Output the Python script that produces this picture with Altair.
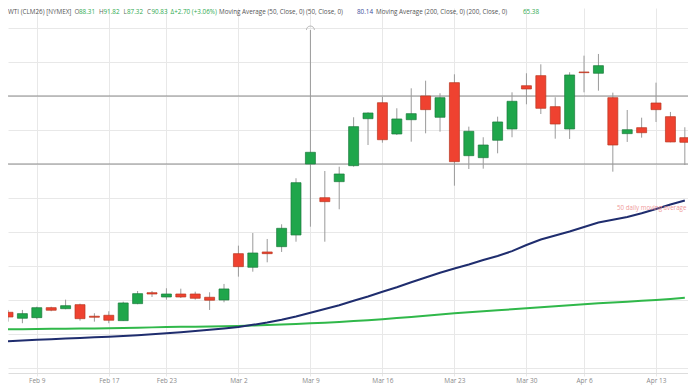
import altair as alt
import pandas as pd

# ---------------- data ----------------
dates = ["Feb 5", "Feb 6", "Feb 9", "Feb 10", "Feb 11", "Feb 12", "Feb 13", "Feb 17",
         "Feb 18", "Feb 19", "Feb 20", "Feb 23", "Feb 24", "Feb 25", "Feb 26", "Feb 27",
         "Mar 2", "Mar 3", "Mar 4", "Mar 5", "Mar 6", "Mar 9", "Mar 10", "Mar 11",
         "Mar 12", "Mar 13", "Mar 16", "Mar 17", "Mar 18", "Mar 19", "Mar 20", "Mar 23",
         "Mar 24", "Mar 25", "Mar 26", "Mar 27", "Mar 30", "Mar 31", "Apr 1", "Apr 2",
         "Apr 6", "Apr 7", "Apr 8", "Apr 9", "Apr 10", "Apr 13", "Apr 14", "Apr 15"]

opens = [63.19, 62.31, 62.40, 63.87, 63.72, 64.31, 62.61, 62.75,
         61.96, 64.46, 66.07, 65.44, 65.88, 65.88, 65.40, 65.00,
         71.81, 69.81, 72.06, 72.84, 74.56, 85.00, 80.04, 82.40,
         84.75, 91.66, 94.01, 89.41, 91.51, 95.00, 91.87, 96.96,
         86.22, 85.93, 88.49, 90.15, 96.51, 97.99, 93.43, 90.15,
         98.53, 98.34, 94.75, 89.46, 90.34, 93.97, 91.96, 88.87]
highs = [63.53, 63.53, 64.01, 64.01, 65.05, 64.46, 63.05, 63.34,
         64.75, 66.32, 66.32, 66.72, 66.66, 66.22, 66.13, 67.36,
         72.99, 74.85, 73.97, 76.13, 82.90, 104.70, 83.97, 84.60,
         91.87, 92.60, 94.90, 93.19, 96.13, 97.25, 95.40, 98.19,
         90.49, 88.93, 91.96, 95.54, 98.34, 99.66, 94.81, 98.49,
         100.93, 101.18, 95.49, 92.94, 91.81, 96.96, 92.65, 90.40]
lows = [61.81, 61.58, 62.16, 63.34, 63.63, 61.96, 61.81, 61.58,
        61.91, 64.37, 65.44, 65.05, 65.29, 65.05, 63.53, 64.66,
        68.43, 69.16, 70.54, 72.06, 73.57, 75.78, 73.57, 78.34,
        84.60, 87.79, 88.13, 89.26, 88.28, 89.51, 89.75, 81.81,
        84.26, 84.31, 86.57, 88.93, 93.78, 92.35, 88.72, 88.68,
        95.54, 95.78, 83.87, 88.24, 88.87, 91.18, 88.19, 84.85]
closes = [62.50, 62.99, 63.87, 63.49, 64.16, 62.25, 62.46, 62.02,
          64.56, 65.93, 65.88, 65.88, 65.44, 65.25, 64.96, 66.62,
          69.90, 71.91, 71.81, 75.54, 82.25, 86.72, 79.46, 83.53,
          90.49, 92.50, 88.57, 91.62, 92.40, 92.99, 94.75, 85.34,
          89.81, 87.79, 91.18, 94.22, 96.03, 93.19, 90.88, 98.09,
          98.43, 99.46, 87.79, 90.04, 89.60, 92.99, 88.24, 88.19]

ma50 = [58.93, 59.05, 59.15, 59.24, 59.32, 59.41, 59.50, 59.59,
        59.71, 59.82, 59.96, 60.10, 60.26, 60.44, 60.63, 60.82,
        61.03, 61.34, 61.68, 62.09, 62.56, 63.13, 63.67, 64.23,
        64.88, 65.51, 66.22, 66.87, 67.60, 68.31, 69.00, 69.63,
        70.22, 70.88, 71.47, 72.18, 73.09, 73.90, 74.49, 75.07,
        75.74, 76.40, 76.80, 77.21, 77.75, 78.38, 79.05, 79.63]
ma200 = [60.69, 60.71, 60.74, 60.75, 60.77, 60.80, 60.81, 60.84,
         60.88, 60.93, 60.97, 61.02, 61.05, 61.08, 61.11, 61.15,
         61.18, 61.24, 61.31, 61.39, 61.47, 61.56, 61.66, 61.77,
         61.89, 62.03, 62.18, 62.34, 62.51, 62.68, 62.86, 63.04,
         63.19, 63.34, 63.49, 63.63, 63.78, 63.93, 64.08, 64.22,
         64.37, 64.50, 64.63, 64.75, 64.88, 65.00, 65.15, 65.33]

levels = [95, 85]
price_grid = [55, 60, 65, 70, 75, 80, 85, 90, 95, 100, 105]
tick_labels = ["Feb 9", "Feb 17", "Feb 23", "Mar 2", "Mar 9", "Mar 16",
               "Mar 23", "Mar 30", "Apr 6", "Apr 13"]
marker_dates = ["Mar 9"]
annotation = ["50 daily moving average"]

header_parts = [
    ("WTI (CLM26) [NYMEX]", "#555555", 0),
    ("O", "#666666", 66.5), ("88.31", "#2eaa4f", 71),
    ("H", "#666666", 91), ("91.82", "#2eaa4f", 95.5),
    ("L", "#666666", 115.5), ("87.32", "#2eaa4f", 119),
    ("C", "#666666", 139), ("90.83", "#2eaa4f", 143.5),
    ("\u0394+2.70 (+3.06%)", "#2eaa4f", 162.5),
    ("Moving Average (50, Close, 0)  (50, Close, 0)", "#555555", 211),
    ("80.14", "#3a4a9a", 349),
    ("Moving Average (200, Close, 0)  (200, Close, 0)", "#555555", 368),
    ("65.38", "#2eaa4f", 515),
]

# ---------------- tables ----------------
df = pd.DataFrame({"i": range(len(dates)), "date": dates, "open": opens,
                   "high": highs, "low": lows, "close": closes,
                   "ma50": ma50, "ma200": ma200})
df["body_lo"] = df[["open", "close"]].min(axis=1)
df["body_hi"] = df[["open", "close"]].max(axis=1)
df["dir"] = ["up" if c >= o else "down" for o, c in zip(opens, closes)]

tick_pos = [dates.index(t) for t in tick_labels]
label_expr = " : ".join(f"datum.value == {p} ? '{l}'" for p, l in zip(tick_pos, tick_labels)) + " : ''"

FONT = "Open Sans"
GRID = "#e8e8e8"
GREEN = "#1fa64b"
RED = "#ef4230"

xscale = alt.Scale(domain=[0, 47.22], nice=False, zero=False, padding=0)
yscale = alt.Scale(domain=[54.26, 107.94], nice=False, zero=False)

x_axis = alt.Axis(values=tick_pos, labelExpr=label_expr, grid=True, gridColor=GRID,
                  domain=True, domainColor="#dddddd", ticks=True, tickColor=GRID,
                  tickSize=3, labelFont=FONT, labelFontSize=6.5, labelColor="#8a8a8a",
                  labelPadding=1, title=None)
y_axis = alt.Axis(values=price_grid, grid=True, gridColor=GRID, labels=False,
                  ticks=False, domain=False, title=None)


def X(field="i"):
    return alt.X(f"{field}:Q", scale=xscale, axis=x_axis, title=None)


def Y(field):
    return alt.Y(f"{field}:Q", scale=yscale, axis=y_axis, title=None)


base = alt.Chart(df)

level_layer = alt.Chart(pd.DataFrame({"level": levels})).mark_rule(
    color="#8c8c8c", strokeWidth=1.2
).encode(y=Y("level"))

ma50_layer = base.mark_line(color="#1f2d6e", strokeWidth=2, clip=True).encode(
    x=X(), y=Y("ma50"))
ma200_layer = base.mark_line(color="#30b84a", strokeWidth=2, clip=True).encode(
    x=X(), y=Y("ma200"))

wick_layer = base.mark_rule(color="#9a9a9a", strokeWidth=1, clip=True).encode(
    x=X(), y=Y("low"), y2="high:Q")

body_layer = base.mark_bar(size=10, strokeWidth=0.7, clip=True).encode(
    x=X(), y=Y("body_lo"), y2="body_hi:Q",
    fill=alt.Fill("dir:N", scale=alt.Scale(domain=["up", "down"], range=[GREEN, RED]), legend=None),
    stroke=alt.Stroke("dir:N", scale=alt.Scale(domain=["up", "down"], range=["#1b7a3c", "#b8361f"]), legend=None),
)

marker_layer = alt.Chart(df[df["date"].isin(marker_dates)]).mark_point(
    shape="M -1 0 A 1 1 0 0 1 1 0", size=64, filled=False,
    stroke="#a0a0a0", strokeWidth=1
).encode(x=X(), y=Y("high"))

annot_layer = alt.Chart(pd.DataFrame({"t": annotation})).mark_text(
    align="left", baseline="middle", font=FONT, fontSize=6.2, color="#f09a9a"
).encode(text="t:N", x=alt.value(609), y=alt.value(199.7))

header_layers = []
for txt, col, px in header_parts:
    header_layers.append(
        alt.Chart(pd.DataFrame({"t": [txt]})).mark_text(
            align="left", baseline="top", font=FONT, fontSize=6.3, color=col
        ).encode(text="t:N", x=alt.value(px), y=alt.value(1))
    )

chart = alt.layer(
    level_layer, ma200_layer, ma50_layer, wick_layer, body_layer,
    marker_layer, annot_layer, *header_layers
).properties(
    width=680, height=365,
    padding={"left": 0, "right": 0, "top": 0, "bottom": 12},
    autosize=alt.AutoSizeParams(type="none"),
    background="white",
).configure_view(stroke=None)

chart.save("out.html", embed_options={"renderer": "svg", "actions": False})
